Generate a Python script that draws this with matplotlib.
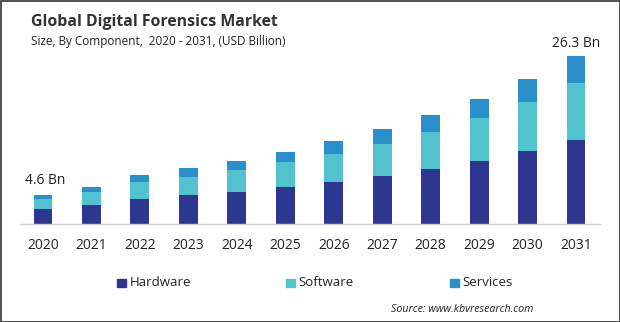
import matplotlib
matplotlib.use('Agg')
from matplotlib import pyplot as plt
from matplotlib.patches import Rectangle
import numpy as np

plt.rcParams['font.family'] = ['Open Sans', 'DejaVu Sans']

years = ["2020", "2021", "2022", "2023", "2024", "2025",
         "2026", "2027", "2028", "2029", "2030", "2031"]
hardware = [2.35, 2.98, 3.92, 4.55, 5.02, 5.80, 6.58, 7.52, 8.62, 9.87, 11.44, 13.17]
software = [1.57, 2.04, 2.66, 2.82, 3.45, 3.90, 4.39, 5.02, 5.80, 6.74, 7.68, 8.93]
services = [0.68, 0.78, 1.10, 1.41, 1.41, 1.57, 2.04, 2.35, 2.66, 2.98, 3.61, 4.20]
totals_shown = {0: "4.6 Bn", 11: "26.3 Bn"}

c_hw = "#2e3790"
c_sw = "#52c3ce"
c_sv = "#2b8fcb"

W, H = 620, 322
fig = plt.figure(figsize=(W / 100, H / 100), dpi=100)
fig.patch.set_facecolor("white")

# plot area in pixel coordinates
left, right, base, top = 20, 600, 224, 40
ax = fig.add_axes([left / W, (H - base) / H, (right - left) / W, (base - top) / H])

x = np.arange(len(years))
ax.bar(x, hardware, width=0.39, color=c_hw, label="Hardware")
ax.bar(x, software, width=0.39, bottom=hardware, color=c_sw, label="Software")
bottom2 = np.array(hardware) + np.array(software)
ax.bar(x, services, width=0.39, bottom=bottom2, color=c_sv, label="Services")

ax.set_xlim(-0.475, 11.495)
ax.set_ylim(0, (base - top) / 6.38)
ax.set_xticks(x)
ax.set_xticklabels(years, fontsize=10, color="#222222")
ax.tick_params(axis="x", length=0, pad=10)
ax.set_yticks([])
for s in ["top", "right", "left"]:
    ax.spines[s].set_visible(False)
ax.spines["bottom"].set_color("#d0d0d0")
ax.spines["bottom"].set_linewidth(1)

totals = bottom2 + np.array(services)
ax.annotate(totals_shown[0], (0, totals[0]), xytext=(1.5, 5), textcoords="offset points",
            ha="center", va="bottom", fontsize=10, color="#222222")
ax.annotate(totals_shown[11], (11, totals[11]), xytext=(0, 4), textcoords="offset points",
            ha="center", va="bottom", fontsize=10, color="#222222")

fig.text(31 / W, 1 - 22 / H, "Global Digital Forensics Market", fontsize=11.4,
         fontweight="bold", color="#333333", va="center", ha="left")
fig.text(31 / W, 1 - 42 / H, "Size, By Component,  2020 - 2031, (USD Billion)", fontsize=8.5,
         color="#222222", va="center", ha="left")

# legend
for name, col, px in [("Hardware", c_hw, 117), ("Software", c_sw, 286), ("Services", c_sv, 450)]:
    fig.patches.append(Rectangle((px / W, 1 - 287 / H), 8.5 / W, 8.5 / H,
                                 transform=fig.transFigure, color=col))
    fig.text((px + 12.5) / W, 1 - 282.5 / H, name, fontsize=9.5, color="#222222",
             va="center", ha="left")

fig.text(391 / W, 1 - 309 / H, "Source: www.kbvresearch.com", fontsize=7.7,
         style="italic", color="#222222", va="center", ha="left")

# thin frame round the figure
fig.patches.append(Rectangle((0.5 / W, 0.5 / H), (W - 1) / W, (H - 1) / H,
                             transform=fig.transFigure, fill=False,
                             edgecolor="#333333", linewidth=1.2))

fig.savefig("out.png", dpi=100)
